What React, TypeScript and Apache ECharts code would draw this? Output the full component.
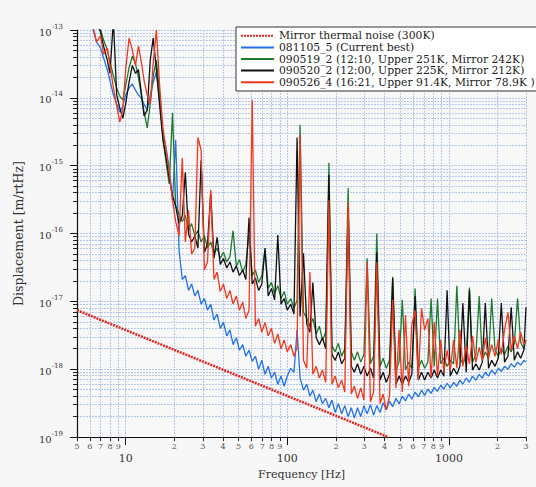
import React, { useEffect, useRef } from 'react';
import * as echarts from 'echarts';

// Frequency grid [Hz]
const freqs = [
  6, 6.3, 6.6, 7, 7.3, 7.7, 8, 8.4, 8.8, 9.2,
  9.6, 10, 10.5, 11, 11.5, 12, 12.5, 13, 13.6, 14.2,
  14.8, 15.5, 16.2, 17, 17.8, 18.6, 19.5, 20.4, 21.4, 22.4,
  23.4, 24.5, 25.6, 26.8, 28, 29.3, 30.7, 32.1, 33.6, 35.2,
  36.8, 38.5, 40.3, 42.2, 44.2, 46.2, 48.4, 50.6, 53, 55.4,
  58, 60.7, 63.5, 66.5, 69.6, 72.8, 76.2, 79.8, 83.5, 87.4,
  91.5, 95.7, 100, 105, 110, 115, 120, 126, 132, 138,
  144, 151, 158, 165, 173, 181, 189, 198, 207, 217,
  227, 238, 249, 260, 272, 285, 298, 312, 327, 342,
  358, 375, 392, 410, 429, 449, 470, 492, 515, 539,
  564, 590, 618, 647, 677, 708, 741, 776, 812, 850,
  890, 931, 975, 1020, 1070, 1120, 1170, 1220, 1280, 1340,
  1400, 1470, 1540, 1610, 1680, 1760, 1840, 1930, 2020, 2110,
  2210, 2320, 2430, 2540, 2660, 2780, 2910, 3000,
];

// 081105_5 (Current best)
const blue = [
  1.4e-13, 1.0e-13, 6.7e-14, 5.4e-14, 3.9e-14, 2.6e-14, 1.8e-14, 1.1e-14, 8.1e-15, 6.2e-15,
  7.6e-15, 1.1e-14, 1.4e-14, 1.6e-14, 1.3e-14, 1.1e-14, 9.9e-15, 8.1e-15, 6.6e-15, 1.1e-14,
  1.7e-14, 2.4e-14, 9.3e-15, 3.1e-15, 1.8e-15, 9.2e-16, 3.1e-16, 2.4e-15, 5.7e-17, 2.1e-17,
  2.4e-17, 1.45e-17, 1.8e-17, 1.2e-17, 1.45e-17, 9.1e-18, 1.1e-17, 7.4e-18, 9.1e-18, 5.3e-18,
  6.5e-18, 4.0e-18, 4.9e-18, 3.1e-18, 3.8e-18, 2.3e-18, 2.9e-18, 1.9e-18, 2.3e-18, 1.55e-18,
  1.9e-18, 1.3e-18, 1.55e-18, 1.0e-18, 1.35e-18, 8.4e-19, 1.1e-18, 7.4e-19, 9.0e-19, 6.0e-19,
  7.9e-19, 5.6e-19, 7.9e-19, 1.03e-18, 9.0e-19, 3.8e-18, 7.4e-19, 4.9e-19, 6.0e-19, 4.0e-19,
  4.9e-19, 3.3e-19, 4.3e-19, 3.1e-19, 3.7e-19, 2.7e-19, 3.5e-19, 2.3e-19, 3.1e-19, 2.2e-19,
  2.9e-19, 2.0e-19, 2.7e-19, 1.9e-19, 2.7e-19, 2.0e-19, 2.9e-19, 2.2e-19, 3.0e-19, 2.1e-19,
  2.9e-19, 2.3e-19, 3.2e-19, 2.5e-19, 3.4e-19, 2.8e-19, 3.7e-19, 3.1e-19, 4.0e-19, 3.4e-19,
  4.3e-19, 3.6e-19, 4.6e-19, 3.9e-19, 4.9e-19, 4.1e-19, 5.1e-19, 4.4e-19, 5.4e-19, 4.7e-19,
  5.8e-19, 5.1e-19, 6.2e-19, 5.3e-19, 6.4e-19, 5.6e-19, 6.9e-19, 6.0e-19, 7.4e-19, 6.4e-19,
  7.9e-19, 6.9e-19, 8.4e-19, 7.4e-19, 9.0e-19, 7.9e-19, 9.7e-19, 8.4e-19, 1.03e-18, 9.3e-19,
  1.1e-18, 1.0e-18, 1.2e-18, 1.07e-18, 1.27e-18, 1.15e-18, 1.35e-18, 1.27e-18,
];

// 090519_2 (12:10, Upper 251K, Mirror 242K)
const green = [
  2.0e-13, 1.5e-13, 1.2e-13, 1.0e-13, 7.1e-14, 5.1e-14, 3.4e-14, 2.1e-14, 1.4e-14, 1.06e-14,
  9.3e-15, 1.5e-14, 2.8e-14, 4.1e-14, 3.2e-14, 2.0e-14, 1.1e-14, 6.2e-15, 3.6e-15, 8.1e-15,
  2.1e-14, 3.6e-14, 1.2e-14, 2.7e-15, 1.1e-15, 5.4e-16, 6.0e-15, 2.6e-16, 1.9e-16, 1.5e-16,
  1.85e-16, 1.1e-16, 1.4e-16, 9.2e-17, 1.1e-16, 7.5e-17, 9.2e-17, 6.1e-17, 7.5e-17, 5.0e-17,
  6.1e-17, 4.3e-17, 5.3e-17, 3.8e-17, 4.6e-17, 1.1e-16, 3.3e-17, 4.1e-17, 2.7e-17, 3.5e-17,
  1.0e-16, 2.4e-17, 2.9e-17, 1.9e-17, 2.4e-17, 5.7e-17, 1.55e-17, 1.9e-17, 1.3e-17, 1.7e-17,
  1.1e-17, 1.4e-17, 9.1e-18, 1.1e-17, 7.9e-18, 1.04e-17, 4.0e-15, 6.9e-18, 5.6e-18, 4.3e-18,
  5.6e-18, 3.3e-18, 4.3e-18, 2.7e-18, 3.5e-18, 1.1e-15, 2.2e-18, 1.8e-18, 2.4e-18, 1.55e-18,
  2.0e-18, 4.7e-16, 1.8e-18, 1.35e-18, 1.8e-18, 1.27e-18, 1.65e-18, 4.3e-17, 1.2e-18, 1.55e-18,
  1.0e-16, 1.1e-18, 1.45e-18, 1.03e-18, 1.35e-18, 2.3e-17, 9.7e-19, 1.27e-18, 1.05e-17, 9.7e-19,
  1.27e-18, 1.03e-18, 1.55e-17, 1.03e-18, 1.35e-18, 1.03e-18, 1.27e-18, 1.1e-17, 1.1e-18, 1.1e-17,
  1.2e-18, 1.45e-18, 1.1e-18, 1.35e-18, 1.2e-18, 1.7e-17, 1.45e-18, 1.2e-18, 1.55e-18, 1.6e-17,
  1.27e-18, 1.65e-18, 1.2e-17, 1.35e-18, 1.8e-18, 1.45e-18, 1.1e-17, 1.9e-18, 1.55e-18, 2.0e-18,
  1.65e-18, 2.2e-18, 1.8e-18, 2.4e-18, 1.1e-17, 2.5e-18, 2.0e-18, 2.7e-18,
];

// 090520_2 (12:00, Upper 225K, Mirror 212K)
const black = [
  2.3e-13, 1.7e-13, 1.3e-13, 9.3e-14, 5.8e-14, 3.6e-14, 2.3e-14, 1.4e-13, 1.1e-14, 7.1e-15,
  5.0e-15, 8.1e-15, 1.7e-14, 3.0e-14, 2.3e-14, 2.6e-14, 1.2e-14, 5.4e-15, 6.6e-15, 3.6e-14,
  7.6e-14, 2.6e-14, 8.1e-15, 2.4e-15, 1.3e-15, 6.6e-16, 3.6e-16, 2.5e-16, 1.4e-16, 1.8e-16,
  8.0e-16, 9.8e-17, 7.5e-17, 9.2e-17, 6.1e-17, 1.2e-15, 5.3e-17, 7.0e-17, 4.0e-16, 4.3e-17,
  8.8e-17, 3.5e-17, 4.3e-17, 3.1e-17, 3.8e-17, 2.7e-17, 3.3e-17, 2.4e-17, 2.9e-17, 2.1e-17,
  1.7e-16, 1.8e-17, 2.2e-17, 1.45e-17, 1.8e-17, 6.1e-17, 1.2e-17, 1.55e-17, 1.05e-17, 9.5e-17,
  9.1e-18, 1.1e-17, 7.4e-18, 9.1e-18, 6.5e-18, 2.6e-15, 6.0e-18, 5.1e-17, 4.6e-18, 3.5e-18,
  1.9e-17, 2.9e-18, 2.3e-18, 2.9e-18, 2.0e-18, 7.3e-16, 1.65e-18, 1.35e-18, 1.8e-18, 1.2e-18,
  1.45e-18, 2.4e-16, 1.1e-18, 9.0e-19, 1.2e-18, 8.4e-19, 1.1e-18, 7.9e-19, 1.03e-18, 7.4e-19,
  5.3e-17, 6.9e-19, 9.0e-19, 6.4e-19, 8.4e-19, 2.2e-17, 6.0e-19, 7.9e-19, 6.0e-19, 7.9e-19,
  6.4e-19, 8.4e-19, 1.2e-17, 6.9e-19, 9.0e-19, 6.9e-19, 9.0e-19, 7.4e-19, 9.7e-19, 7.4e-19,
  9.7e-19, 7.9e-19, 1.45e-17, 7.9e-19, 1.03e-18, 8.4e-19, 1.1e-18, 9.4e-18, 9.0e-19, 1.45e-17,
  9.7e-19, 1.2e-18, 9.7e-19, 1.27e-18, 9.4e-18, 1.03e-18, 1.35e-18, 1.1e-18, 1.45e-18, 9.4e-18,
  1.27e-18, 1.55e-18, 8.2e-18, 1.35e-18, 1.8e-18, 1.45e-18, 1.9e-18, 8.2e-18,
];

// 090526_4 (16:21, Upper 91.4K, Mirror 78.9K )
const red = [
  1.7e-13, 1.1e-13, 6.7e-14, 8.2e-14, 4.4e-14, 5.4e-14, 3.0e-14, 1.4e-14, 7.6e-15, 4.4e-15,
  6.6e-15, 2.6e-14, 7.6e-14, 5.1e-14, 3.0e-14, 5.8e-14, 3.4e-14, 1.8e-14, 1.1e-14, 8.1e-15,
  3.2e-14, 1.0e-13, 1.6e-14, 3.6e-15, 1.7e-15, 8.0e-16, 3.1e-16, 1.5e-16, 9.2e-17, 1.3e-15,
  7.5e-17, 2.2e-16, 5.0e-17, 6.1e-17, 2.6e-15, 1.7e-15, 2.9e-17, 3.8e-17, 4.4e-16, 2.1e-17,
  2.7e-17, 1.4e-17, 1.8e-17, 1.1e-17, 1.45e-17, 9.1e-18, 1.2e-17, 7.4e-18, 9.7e-18, 5.6e-18,
  7.4e-18, 9.3e-15, 4.3e-18, 5.6e-18, 3.5e-18, 4.9e-18, 3.1e-18, 4.0e-18, 2.4e-18, 3.3e-18,
  2.0e-18, 2.7e-18, 1.8e-18, 2.3e-18, 1.55e-18, 2.1e-18, 2.8e-15, 1.35e-18, 1.03e-18, 2.7e-17,
  8.4e-19, 1.1e-18, 7.4e-19, 9.7e-19, 6.4e-19, 3.1e-16, 6.0e-19, 7.9e-19, 5.3e-19, 6.9e-19,
  4.6e-19, 2.9e-16, 4.3e-19, 5.6e-19, 3.7e-19, 5.3e-19, 3.5e-19, 3.8e-17, 3.3e-19, 4.6e-19,
  3.8e-17, 3.1e-19, 4.3e-19, 2.5e-19, 4.0e-19, 1.05e-17, 5.3e-19, 3.8e-18, 4.6e-19, 6.3e-18,
  5.6e-19, 4.5e-18, 7.4e-18, 6.9e-19, 7.9e-18, 3.8e-18, 5.6e-18, 7.4e-19, 4.9e-18, 7.9e-19,
  2.7e-18, 9.0e-19, 1.9e-18, 9.7e-19, 2.7e-18, 1.03e-18, 3.8e-18, 1.1e-18, 2.2e-18, 1.2e-18,
  3.1e-18, 1.27e-18, 2.1e-18, 1.35e-18, 2.9e-18, 1.45e-18, 2.3e-18, 1.55e-18, 2.7e-18, 1.65e-18,
  3.8e-18, 6.9e-18, 1.9e-18, 3.1e-18, 2.0e-18, 3.5e-18, 2.3e-18, 2.7e-18,
];

// Mirror thermal noise (300K)
const thermalFreqs = [5, 420];
const thermal = [7.4e-18, 1.0e-19];

const seriesNames = [
  'Mirror thermal noise (300K)',
  '081105_5 (Current best)',
  '090519_2 (12:10, Upper 251K, Mirror 242K)',
  '090520_2 (12:00, Upper 225K, Mirror 212K)',
  '090526_4 (16:21, Upper 91.4K, Mirror 78.9K )',
];

const xMajorTicks = [10, 100, 1000];
const xMinorTicks = [5, 6, 7, 8, 9, 20, 30, 40, 50, 60, 70, 80, 90, 200, 300, 400, 500, 600, 700, 800, 900, 2000, 3000];
const yMajorTicks = [1e-19, 1e-18, 1e-17, 1e-16, 1e-15, 1e-14, 1e-13];
const yMinorMantissas = [2, 3, 4, 5, 6, 7, 8, 9];
const yMinorDecades = [-19, -18, -17, -16, -15, -14];

const FONT = 'DejaVu Serif';
const GRID_COLOR = '#b4c8ea';

export default function App() {
  const ref = useRef<HTMLDivElement>(null);
  useEffect(() => {
    const chart = echarts.init(ref.current!, null, { renderer: 'svg' });
    const yMinorTicks: number[] = [];
    yMinorDecades.forEach((d) => yMinorMantissas.forEach((m) => yMinorTicks.push(Number(m + 'e' + d))));
    const pairs = (arr: number[]) => freqs.map((f, i) => [f, arr[i]]);
    const splitLine = { show: true, lineStyle: { color: GRID_COLOR, width: 1, type: [2, 1] as any } };
    const lineSeries = (name: string, data: number[], color: string) => ({
      type: 'line', name, data: pairs(data), symbol: 'none', xAxisIndex: 0, yAxisIndex: 0,
      lineStyle: { color, width: 1.3 }, itemStyle: { color }, clip: true, z: 3,
    });
    chart.setOption({
      animation: false,
      backgroundColor: '#f7f7f7',
      grid: { left: 77, right: 10, top: 30, bottom: 50, show: true, backgroundColor: '#f8f8f8', borderWidth: 0, containLabel: false, outerBoundsMode: 'none' },
      legend: {
        orient: 'vertical', left: 236, top: 27, itemWidth: 33, itemHeight: 2, itemGap: 0,
        padding: [3, 3, 3, 4], backgroundColor: '#ffffff', borderColor: '#333', borderWidth: 1,
        selectedMode: false, data: seriesNames,
        lineStyle: { width: 2 },
        itemStyle: { color: 'rgba(0,0,0,0)', borderWidth: 0 },
        textStyle: { fontFamily: FONT, fontSize: 10.8, color: '#222', lineHeight: 11.6 },
        z: 10,
      },
      xAxis: [
        {
          type: 'log', min: 5, max: 3000, position: 'bottom',
          axisLine: { show: true, onZero: false, lineStyle: { color: '#111', width: 1.2 } },
          axisTick: { show: true, customValues: xMinorTicks, length: 4, lineStyle: { color: '#222' } },
          axisLabel: {
            customValues: xMinorTicks, fontFamily: FONT, fontSize: 8, color: '#555', margin: 5,
            formatter: (v: number) => String(Math.round(v / Math.pow(10, Math.floor(Math.log10(v) + 1e-9)))),
          },
          splitLine,
        },
        {
          type: 'log', min: 5, max: 3000, position: 'bottom',
          axisLine: { show: false },
          axisTick: { show: true, customValues: xMajorTicks, length: 8, lineStyle: { color: '#111' } },
          axisLabel: {
            customValues: xMajorTicks, fontFamily: FONT, fontSize: 11, color: '#333', margin: 16,
            formatter: (v: number) => String(Math.round(v)),
          },
          splitLine,
          name: 'Frequency [Hz]', nameLocation: 'middle', nameGap: 32,
          nameTextStyle: { fontFamily: FONT, fontSize: 11, color: '#333' },
        },
      ],
      yAxis: [
        {
          type: 'log', min: 1e-19, max: 1e-13, position: 'left',
          axisLine: { show: true, onZero: false, lineStyle: { color: '#111', width: 1.2 } },
          axisTick: { show: true, customValues: yMajorTicks, length: 7, lineStyle: { color: '#111' } },
          axisLabel: {
            customValues: yMajorTicks, margin: 14, color: '#333',
            formatter: (v: number) => '{b|10}{s|' + Math.round(Math.log10(v)) + '}',
            rich: {
              b: { fontFamily: FONT, fontSize: 10, color: '#333', lineHeight: 14, verticalAlign: 'bottom' },
              s: { fontFamily: FONT, fontSize: 7, color: '#333', verticalAlign: 'top' },
            },
          },
          splitLine,
          name: 'Displacement [m/rtHz]', nameLocation: 'middle', nameGap: 52,
          nameTextStyle: { fontFamily: FONT, fontSize: 12.5, color: '#333' },
        },
        {
          type: 'log', min: 1e-19, max: 1e-13, position: 'left',
          axisLine: { show: false },
          axisTick: { show: true, customValues: yMinorTicks, length: 4, lineStyle: { color: '#222' } },
          axisLabel: { show: false },
          splitLine,
        },
      ],
      series: [
        lineSeries(seriesNames[1], blue, '#2271ec'),
        lineSeries(seriesNames[2], green, '#1d7a2e'),
        lineSeries(seriesNames[3], black, '#111111'),
        lineSeries(seriesNames[4], red, '#f2371d'),
        {
          type: 'line', name: seriesNames[0], data: thermalFreqs.map((f, i) => [f, thermal[i]]),
          symbol: 'none', xAxisIndex: 0, yAxisIndex: 0, z: 4,
          lineStyle: { color: '#e0261e', width: 2.5, type: [2, 1] },
          itemStyle: { color: '#e0261e' },
        },
      ],
    });
    return () => chart.dispose();
  }, []);
  return <div ref={ref} style={{ position: 'fixed', left: 0, top: 0, width: 536, height: 487 }} />;
}
